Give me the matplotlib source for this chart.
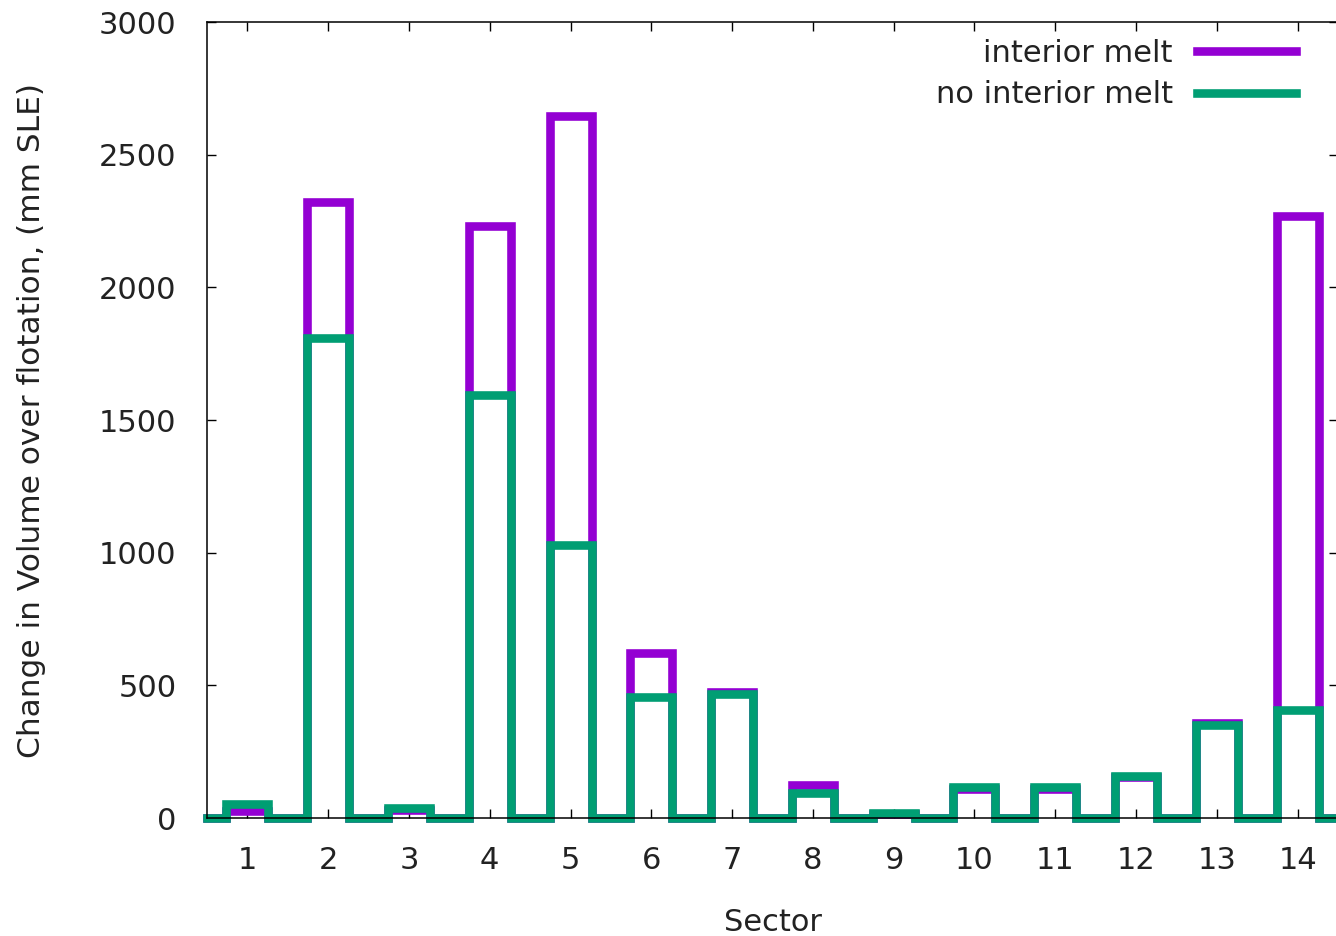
import numpy as np
import matplotlib
matplotlib.use("Agg")
import matplotlib.pyplot as plt

# change in volume above flotation per sector (mm SLE)
sectors = list(range(1, 15))
interior_melt = [26, 2323, 30, 2230, 2645, 622, 474, 124, 15, 111, 111, 155, 359, 2269]
no_interior_melt = [53, 1808, 36, 1593, 1029, 457, 467, 93, 18, 116, 116, 158, 350, 407]

PURPLE = "#9400d3"
GREEN = "#009e73"


def step_path(pos, vals, hw=0.26):
    xs = [pos[0] - 0.5]
    ys = [0]
    for p, v in zip(pos, vals):
        xs += [p - hw, p - hw, p + hw, p + hw]
        ys += [0, v, v, 0]
    xs.append(pos[-1] + 0.5)
    ys.append(0)
    return xs, ys


plt.rcParams['font.family'] = ['DejaVu Sans']
plt.rcParams['font.size'] = 22

fig = plt.figure(figsize=(13.36, 9.36), dpi=100)
ax = fig.add_axes([207 / 1336, 118 / 936, 1131 / 1336, 796 / 936])

x1, y1 = step_path(sectors, interior_melt)
x2, y2 = step_path(sectors, no_interior_melt)
ax.plot(x1, y1, color=PURPLE, lw=6.2, solid_joinstyle='miter', clip_on=False, label="interior melt")
ax.plot(x2, y2, color=GREEN, lw=6.2, solid_joinstyle='miter', clip_on=False, label="no interior melt")

ax.set_xlim(0.5, 14.5)
ax.set_ylim(0, 3000)
ax.set_xticks(sectors)
ax.set_yticks(np.arange(0, 3001, 500))
ax.tick_params(direction='in', length=6.5, width=1.0, top=True, right=True, labelcolor='#222222')
ax.tick_params(axis='x', pad=20)
ax.tick_params(axis='y', pad=22)
for s in ax.spines.values():
    s.set_linewidth(1.1)

ax.set_xlabel("Sector", color='#222222')
ax.xaxis.set_label_coords(0.5, -0.1133)
ax.set_ylabel("Change in Volume over flotation, (mm SLE)", color='#222222', fontsize=22.5)
ax.yaxis.set_label_coords(-0.1425, 0.5)

ax.legend(loc='upper right', bbox_to_anchor=(1296 / 1336, 1 - 38.5 / 936), bbox_transform=fig.transFigure,
          frameon=False, markerfirst=False, handlelength=3.25, handletextpad=0.78,
          labelspacing=0.42, borderpad=0, borderaxespad=0, labelcolor='#222222')

fig.savefig("out.png", dpi=100)
